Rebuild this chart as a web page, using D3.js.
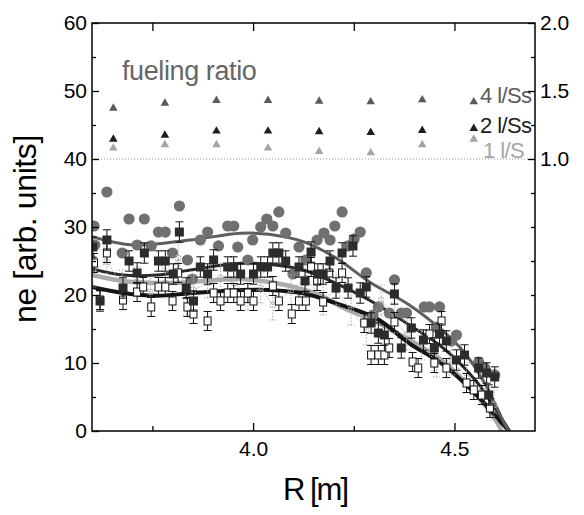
<!DOCTYPE html>
<html>
<head>
<meta charset="utf-8">
<script src="https://cdn.jsdelivr.net/npm/d3@7"></script>
<style>
  body { margin: 0; background: #fff; }
  text { font-family: "Liberation Sans", Arial, sans-serif; }
</style>
</head>
<body>
<svg id="chart"></svg>
<script>
// fueling ratio triangles (right axis)
const ratioR = [3.653, 3.781, 3.909, 4.037, 4.164, 4.292, 4.420, 4.548];
const ratio4 = [1.373, 1.41, 1.43, 1.43, 1.425, 1.42, 1.435, 1.42];
const ratio2 = [1.145, 1.175, 1.205, 1.205, 1.2, 1.195, 1.21, 1.225];
const ratio1 = [1.08, 1.105, 1.105, 1.08, 1.055, 1.045, 1.105, 1.145];
const legendLabels = ["4 l/Ss", "2 l/Ss", "1 l/S"];

// circles (4 l/Ss)
const circR = [3.605, 3.607, 3.637, 3.675, 3.692, 3.712, 3.730, 3.747, 3.765, 3.782, 3.800, 3.817, 3.837, 3.849, 3.869, 3.887, 3.914, 3.937, 3.952, 3.962, 3.987, 3.999, 4.019, 4.034, 4.049, 4.064, 4.081, 4.099, 4.114, 4.131, 4.159, 4.176, 4.191, 4.203, 4.221, 4.236, 4.251, 4.266, 4.281, 4.298, 4.311, 4.338, 4.351, 4.368, 4.381, 4.425, 4.438, 4.455, 4.463, 4.493, 4.505, 4.560, 4.575, 4.600];
const circN = [30.15, 27.35, 35.15, 26.18, 31.18, 27.35, 31.18, 27.21, 29.26, 29.26, 26.18, 33.09, 25.15, 22.35, 28.09, 29.26, 27.21, 30.15, 30.15, 27.06, 25.15, 28.09, 30.0, 31.18, 30.15, 32.21, 29.12, 23.09, 27.06, 25.15, 28.09, 29.12, 28.09, 30.15, 32.21, 27.21, 28.24, 29.26, 23.24, 17.06, 18.24, 17.35, 22.21, 17.35, 17.35, 18.24, 18.24, 15.29, 18.24, 13.24, 14.12, 10.15, 9.26, 8.24];

// filled squares (2 l/Ss)
const fillR = [3.602, 3.620, 3.637, 3.677, 3.692, 3.712, 3.730, 3.765, 3.782, 3.802, 3.817, 3.834, 3.852, 3.869, 3.887, 3.902, 3.937, 3.952, 3.969, 4.001, 4.019, 4.036, 4.049, 4.064, 4.081, 4.114, 4.129, 4.144, 4.161, 4.174, 4.191, 4.206, 4.221, 4.236, 4.248, 4.266, 4.281, 4.293, 4.311, 4.326, 4.351, 4.368, 4.393, 4.423, 4.450, 4.463, 4.480, 4.505, 4.525, 4.560, 4.580, 4.600, 4.585];
const fillN = [27.06, 19.12, 28.09, 21.03, 25.0, 23.24, 26.18, 25.0, 25.0, 23.09, 29.26, 21.03, 19.12, 24.12, 23.09, 25.15, 24.12, 24.12, 23.09, 23.09, 24.12, 24.12, 26.18, 26.18, 25.0, 24.12, 22.06, 26.32, 23.09, 23.09, 25.0, 21.03, 26.18, 21.03, 27.21, 20.29, 21.18, 15.88, 14.41, 14.12, 20.15, 12.21, 15.15, 13.38, 12.21, 14.26, 13.24, 10.44, 11.18, 9.26, 8.53, 7.94, 5.29];
const fillErr = 1.5;

// open squares
const openR = [3.605, 3.620, 3.637, 3.677, 3.712, 3.727, 3.747, 3.765, 3.782, 3.800, 3.814, 3.837, 3.852, 3.887, 3.902, 3.919, 3.937, 3.952, 3.969, 3.987, 4.001, 4.049, 4.064, 4.096, 4.114, 4.131, 4.144, 4.159, 4.174, 4.189, 4.221, 4.276, 4.293, 4.311, 4.326, 4.338, 4.351, 4.396, 4.410, 4.438, 4.450, 4.468, 4.480, 4.530, 4.548, 4.568, 4.588];
const openN = [24.71, 19.26, 26.18, 19.26, 20.44, 21.18, 18.24, 21.18, 21.18, 19.12, 23.24, 18.24, 17.21, 16.18, 20.29, 19.12, 20.29, 20.29, 19.12, 20.29, 19.12, 21.32, 19.12, 17.21, 19.12, 19.12, 24.12, 22.06, 18.97, 23.24, 23.24, 15.88, 11.18, 11.18, 11.18, 12.21, 16.03, 10.15, 9.26, 14.26, 10.0, 16.18, 9.26, 7.06, 6.03, 5.29, 3.38];
const openErr = 1.4;

// light gray dotted series (1 l/S)
const dotR = [3.602, 3.637, 3.675, 3.712, 3.745, 3.782, 3.814, 3.834, 3.852, 3.887, 3.919, 3.952, 3.987, 4.019, 4.049, 4.094, 4.131, 4.174, 4.206, 4.243, 4.281, 4.318, 4.351, 4.381, 4.418, 4.455, 4.493, 4.530, 4.568, 4.598];
const dotN = [23.38, 24.85, 21.47, 21.91, 20.44, 21.76, 25.44, 19.26, 20.74, 21.76, 22.5, 21.76, 20.0, 21.03, 18.53, 20.74, 22.5, 19.26, 20.74, 17.79, 14.85, 19.26, 16.62, 14.12, 12.65, 10.15, 10.44, 7.79, 6.32, 3.82];
const dotErr = 2.2;

// fit curves
const fitCircR = [3.6, 3.702, 3.844, 3.969, 4.039, 4.124, 4.206, 4.288, 4.388, 4.473, 4.523, 4.573, 4.622, 4.635];
const fitCircN = [28.57, 27.35, 28.09, 29.07, 28.93, 27.84, 25.44, 21.96, 18.53, 14.6, 11.66, 7.25, 1.37, 0.0];
const fitFillR = [3.6, 3.677, 3.762, 3.844, 3.969, 4.039, 4.124, 4.206, 4.288, 4.388, 4.473, 4.555, 4.622, 4.637];
const fitFillN = [23.82, 22.94, 22.94, 23.68, 24.66, 24.51, 23.68, 21.72, 19.26, 15.59, 12.16, 7.25, 1.37, 0.0];
const fitDotR = [3.6, 3.677, 3.802, 3.969, 4.081, 4.176, 4.218, 4.306, 4.388, 4.473, 4.555, 4.605, 4.617];
const fitDotN = [22.94, 22.06, 21.76, 22.35, 21.47, 19.71, 18.28, 16.03, 13.38, 10.19, 5.29, 1.37, 0.0];
const fitOpenR = [3.6, 3.677, 3.762, 3.844, 3.969, 4.039, 4.124, 4.206, 4.306, 4.388, 4.473, 4.555, 4.622, 4.635];
const fitOpenN = [21.18, 20.29, 19.9, 20.25, 20.74, 20.74, 20.25, 18.78, 16.57, 12.9, 9.71, 5.29, 0.88, 0.0];

const W = 584, H = 515;
const margin = { top: 23, right: 49, bottom: 84, left: 92 };

const svg = d3.select("#chart").attr("width", W).attr("height", H);

const x = d3.scaleLinear().domain([3.6, 4.7]).range([margin.left, W - margin.right]);
const y = d3.scaleLinear().domain([0, 60]).range([H - margin.bottom, margin.top]);
const y2 = d3.scaleLinear().domain([-1, 2]).range([H - margin.bottom, margin.top]);

svg.append("clipPath").attr("id", "clip").append("rect")
  .attr("x", margin.left).attr("y", margin.top)
  .attr("width", W - margin.left - margin.right)
  .attr("height", H - margin.top - margin.bottom);

const plot = svg.append("g").attr("clip-path", "url(#clip)");

// 1.0 reference line
plot.append("line")
  .attr("x1", x(3.6)).attr("x2", x(4.7))
  .attr("y1", y2(1)).attr("y2", y2(1))
  .attr("stroke", "#999").attr("stroke-width", 1.2)
  .attr("stroke-dasharray", "1.2,1.8");

// fit curves
const line = d3.line().curve(d3.curveCatmullRom.alpha(0.5));
const fits = [
  { r: fitDotR, n: fitDotN, c: "#ababab", w: 4.5 },
  { r: fitOpenR, n: fitOpenN, c: "#151515", w: 4 },
  { r: fitFillR, n: fitFillN, c: "#2a2a2a", w: 3 },
  { r: fitCircR, n: fitCircN, c: "#5e5e5e", w: 3 }
];
fits.forEach(f => {
  plot.append("path")
    .attr("d", line(f.r.map((r, i) => [x(r), y(f.n[i])])))
    .attr("fill", "none").attr("stroke", f.c).attr("stroke-width", f.w);
});

// circles
plot.selectAll(".circ")
  .data(circR.map((r, i) => [r, circN[i]]))
  .enter().append("circle")
  .attr("class", "circ")
  .attr("cx", d => x(d[0])).attr("cy", d => y(d[1]))
  .attr("r", 5.6)
  .attr("fill", "#707070");

// dotted gray series
plot.append("path")
  .attr("d", d3.line()(dotR.map((r, i) => [x(r), y(dotN[i])])))
  .attr("fill", "none").attr("stroke", "#aaa").attr("stroke-width", 1)
  .attr("stroke-dasharray", "1.5,1.5");

function errorBars(sel, data, err, color, dash, cap) {
  const g = sel.append("g").attr("stroke", color).attr("stroke-width", 1);
  if (dash) g.attr("stroke-dasharray", dash);
  g.selectAll("line.v").data(data).enter().append("line")
    .attr("x1", d => x(d[0])).attr("x2", d => x(d[0]))
    .attr("y1", d => y(d[1] - err)).attr("y2", d => y(d[1] + err));
  [-err, err].forEach(e => {
    g.selectAll(null).data(data).enter().append("line")
      .attr("x1", d => x(d[0]) - cap).attr("x2", d => x(d[0]) + cap)
      .attr("y1", d => y(d[1] + e)).attr("y2", d => y(d[1] + e));
  });
}

const dotData = dotR.map((r, i) => [r, dotN[i]]);
errorBars(plot, dotData, dotErr, "#a8a8a8", "1.5,1.5", 3.5);
plot.selectAll(".dotm").data(dotData).enter().append("rect")
  .attr("x", d => x(d[0]) - 2.5).attr("y", d => y(d[1]) - 2.5)
  .attr("width", 5).attr("height", 5)
  .attr("fill", "none").attr("stroke", "#aaa").attr("stroke-width", 1)
  .attr("stroke-dasharray", "1.5,1");

// open squares
const openData = openR.map((r, i) => [r, openN[i]]);
errorBars(plot, openData, openErr, "#111", null, 4);
plot.selectAll(".open").data(openData).enter().append("rect")
  .attr("x", d => x(d[0]) - 3.5).attr("y", d => y(d[1]) - 4)
  .attr("width", 7).attr("height", 8)
  .attr("fill", "#fff").attr("stroke", "#111").attr("stroke-width", 1);

// filled squares
const fillData = fillR.map((r, i) => [r, fillN[i]]);
errorBars(plot, fillData, fillErr, "#111", null, 4);
plot.selectAll(".fill").data(fillData).enter().append("rect")
  .attr("x", d => x(d[0]) - 4.5).attr("y", d => y(d[1]) - 4.5)
  .attr("width", 9).attr("height", 9)
  .attr("fill", "#2c2c2c");

// fueling ratio triangles
const tri = d3.symbol().type(d3.symbolTriangle).size(32);
[[ratio4, "#5a5a5a"], [ratio2, "#1e1e1e"], [ratio1, "#a5a5a5"]].forEach(([vals, c]) => {
  plot.selectAll(null).data(ratioR.map((r, i) => [r, vals[i]])).enter()
    .append("path")
    .attr("d", tri)
    .attr("transform", d => `translate(${x(d[0])},${y2(d[1])})`)
    .attr("fill", c);
});

svg.append("text").attr("x", 122).attr("y", 80)
  .attr("font-size", 27).attr("fill", "#666")
  .attr("letter-spacing", -0.4)
  .text("fueling ratio");

const legendY = [103, 133, 158];
const legendX = [480, 480, 483];
const legendC = ["#5a5a5a", "#1e1e1e", "#a5a5a5"];
legendLabels.forEach((t, i) => {
  svg.append("text").attr("x", legendX[i]).attr("y", legendY[i])
    .attr("font-size", 22).attr("fill", legendC[i])
    .attr("letter-spacing", -0.6)
    .text(t);
});

// axes
function styleAxis(g, fs) {
  g.select(".domain").remove();
  g.selectAll(".tick line").attr("stroke", "#000").attr("stroke-width", 1.3);
  g.selectAll("text").attr("font-size", fs).attr("fill", "#000")
    .attr("font-family", "Liberation Sans, Arial, sans-serif");
}
const xb = H - margin.bottom, xr = W - margin.right;

svg.append("g").attr("transform", `translate(0,${xb})`)
  .call(d3.axisBottom(x).tickValues([4.0, 4.5]).tickSize(-8).tickPadding(10).tickFormat(d3.format(".1f")))
  .call(g => styleAxis(g, 21));
svg.append("g").attr("transform", `translate(0,${xb})`)
  .call(d3.axisBottom(x).tickValues([3.75, 4.25]).tickSize(-5).tickFormat(""))
  .call(g => styleAxis(g, 21));
svg.append("g").attr("transform", `translate(0,${margin.top})`)
  .call(d3.axisTop(x).tickValues([3.75, 4.0, 4.25, 4.5]).tickSize(-8).tickFormat(""))
  .call(g => styleAxis(g, 21));

svg.append("g").attr("transform", `translate(${margin.left},0)`)
  .call(d3.axisLeft(y).tickValues(d3.range(0, 61, 10)).tickSize(-7).tickPadding(5))
  .call(g => styleAxis(g, 21));
svg.append("g").attr("transform", `translate(${margin.left},0)`)
  .call(d3.axisLeft(y).tickValues(d3.range(5, 60, 10)).tickSize(-4).tickFormat(""))
  .call(g => styleAxis(g, 21));

svg.append("g").attr("transform", `translate(${xr},0)`)
  .call(d3.axisRight(y2).tickValues([1.0, 1.5, 2.0]).tickSize(-7).tickPadding(5).tickFormat(d3.format(".1f")))
  .call(g => styleAxis(g, 21));
svg.append("g").attr("transform", `translate(${xr},0)`)
  .call(d3.axisRight(y2).tickValues([-0.75, -0.5, -0.25, 0, 0.25, 0.5, 0.75, 1.25, 1.75]).tickSize(-4).tickFormat(""))
  .call(g => styleAxis(g, 21));

// frame
svg.append("rect")
  .attr("x", margin.left).attr("y", margin.top)
  .attr("width", xr - margin.left).attr("height", xb - margin.top)
  .attr("fill", "none").attr("stroke", "#000").attr("stroke-width", 1.5);

// axis titles
svg.append("text")
  .attr("x", 315).attr("y", 500)
  .attr("text-anchor", "middle").attr("font-size", 31)
  .attr("letter-spacing", -2)
  .text("R [m]");
svg.append("text")
  .attr("transform", "translate(36,229) rotate(-90)")
  .attr("text-anchor", "middle").attr("font-size", 32)
  .attr("letter-spacing", -0.4)
  .text("ne [arb. units]");
</script>
</body>
</html>
